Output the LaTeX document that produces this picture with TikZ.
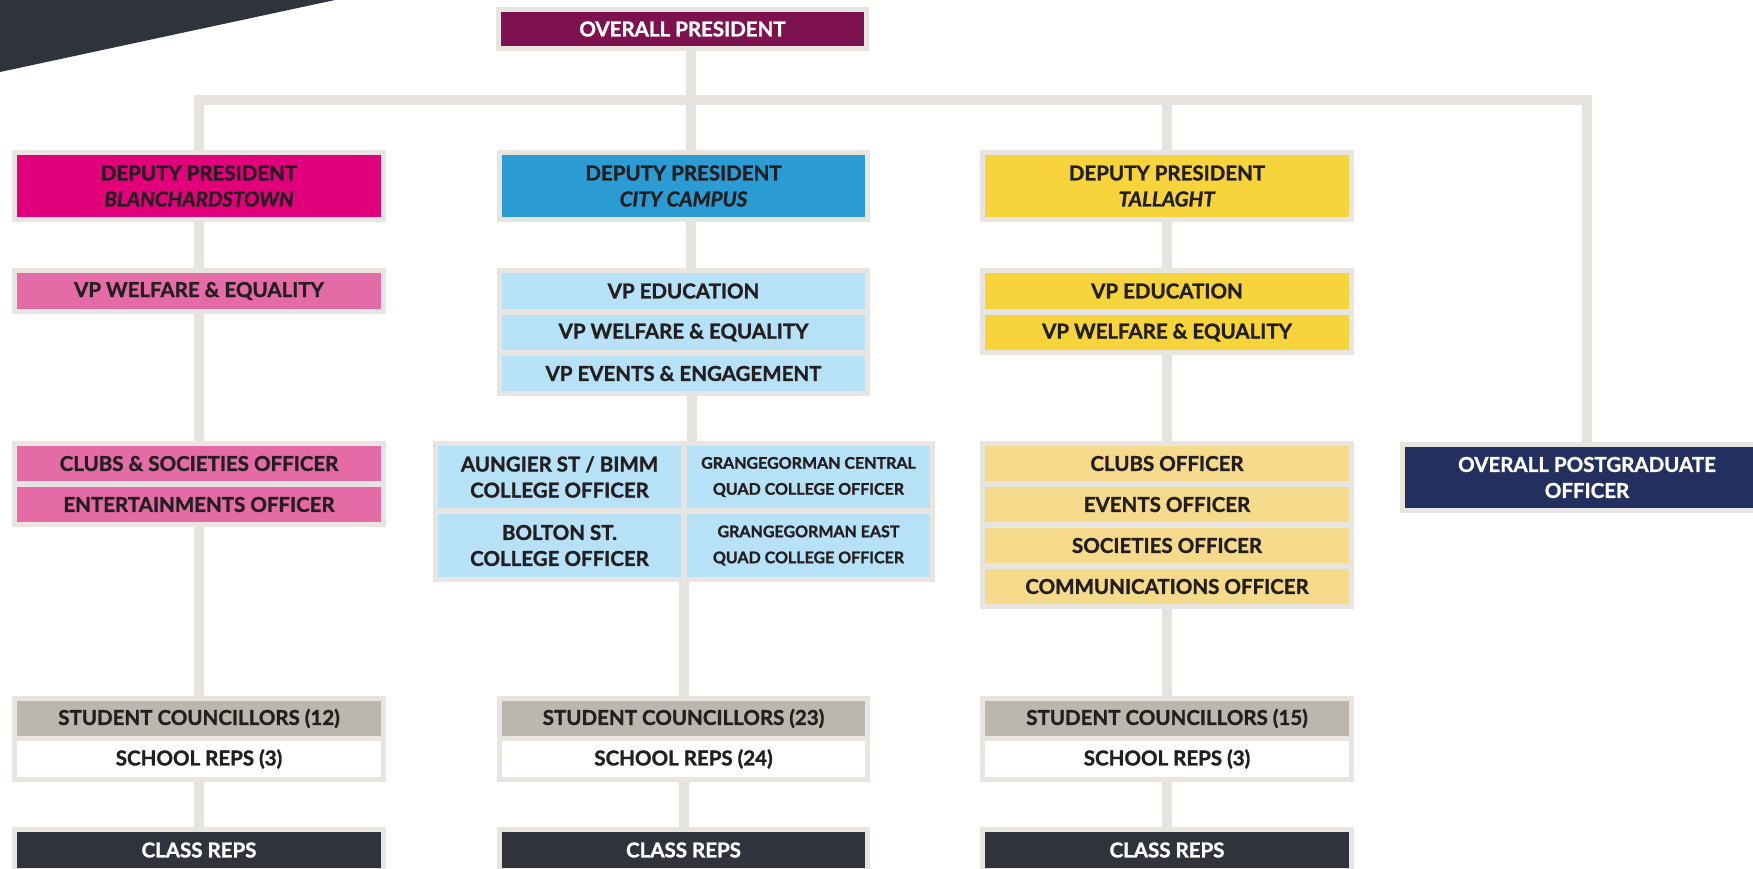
\documentclass[tikz,border=0pt]{standalone}
\usepackage{fontspec}
\setmainfont{Lato}[BoldFeatures={FakeBold=1.3},BoldItalicFeatures={FakeBold=1.3}]
\usetikzlibrary{calc}
\definecolor{ink}{HTML}{231F20}
\definecolor{frmc}{HTML}{E8E5E0}
\definecolor{linc}{HTML}{E6E3DE}
\definecolor{maroon}{HTML}{7E1150}
\definecolor{magen}{HTML}{E2007A}
\definecolor{pinkl}{HTML}{E56BA6}
\definecolor{blued}{HTML}{2A9BD3}
\definecolor{bluel}{HTML}{B7E1F6}
\definecolor{yeld}{HTML}{F8D43C}
\definecolor{yell}{HTML}{F4DA8A}
\definecolor{navy}{HTML}{232F5F}
\definecolor{beige}{HTML}{BBB7AE}
\definecolor{darkc}{HTML}{30333B}
\newcommand\fs{\fontsize{20.5}{26}\selectfont\bfseries}
\newcommand\fss{\fontsize{16}{26}\selectfont\bfseries}
\pgfdeclarelayer{bg}
\pgfsetlayers{bg,main}
\begin{document}
\begin{tikzpicture}[x=1pt,y=-1pt,
  frm/.style={fill=frmc, anchor=north west, inner sep=0pt, outer sep=0pt},
  bx/.style={anchor=north west, inner sep=0pt, outer sep=0pt, align=center, text=ink, font=\fs},
  wt/.style={text=white},
  single/.style={minimum width=364pt, minimum height=36pt},
  conn/.style={draw=linc, line width=10pt, line join=miter}]
\useasboundingbox (0,0) rectangle (1753,868);
\clip (0,0) rectangle (1753,868);
\fill[darkc] (0,0) -- (335,0) -- (0,72) -- cycle;
\coordinate (bar) at (691,100);

% overall president
\node[frm, minimum width=373pt, minimum height=44pt] (opF) at (496,7) {};
\node[bx, wt, fill=maroon, minimum width=363pt, minimum height=34pt] (op) at (501,12) {OVERALL PRESIDENT};

% deputy row
\node[frm, minimum width=374pt, minimum height=72pt] (pdF) at (12,150) {};
\node[bx, fill=magen, minimum width=364pt, minimum height=62pt] (pd) at (17,155) {DEPUTY PRESIDENT\\\textit{BLANCHARDSTOWN}};
\node[frm, minimum width=373pt, minimum height=72pt] (bdF) at (497,150) {};
\node[bx, fill=blued, minimum width=363pt, minimum height=62pt] (bd) at (502,155) {DEPUTY PRESIDENT\\\textit{CITY CAMPUS}};
\node[frm, minimum width=374pt, minimum height=72pt] (ydF) at (980,150) {};
\node[bx, fill=yeld, minimum width=364pt, minimum height=62pt] (yd) at (985,155) {DEPUTY PRESIDENT\\\textit{TALLAGHT}};

% VP row
\node[frm, minimum width=374pt, minimum height=46pt] (pvF) at (12,268) {};
\node[bx, single, fill=pinkl] (pv1) at (17,273) {VP WELFARE \& EQUALITY};
\node[frm, minimum width=373pt, minimum height=128pt] (bvF) at (497,268) {};
\node[bx, fill=bluel, minimum width=363pt, minimum height=36pt] (bv1) at (502,273) {VP EDUCATION};
\node[bx, fill=bluel, minimum width=363pt, minimum height=35pt] (bv2) at (502,315) {VP WELFARE \& EQUALITY};
\node[bx, fill=bluel, minimum width=363pt, minimum height=35pt] (bv3) at (502,356) {VP EVENTS \& ENGAGEMENT};
\node[frm, minimum width=374pt, minimum height=87pt] (yvF) at (980,268) {};
\node[bx, single, fill=yeld] (yv1) at (985,273) {VP EDUCATION};
\node[bx, fill=yeld, minimum width=364pt, minimum height=35pt] (yv2) at (985,315) {VP WELFARE \& EQUALITY};

% officers row
\node[frm, minimum width=374pt, minimum height=86pt] (poF) at (12,441) {};
\node[bx, fill=pinkl, minimum width=364pt, minimum height=35pt] (po1) at (17,446) {CLUBS \& SOCIETIES OFFICER};
\node[bx, fill=pinkl, minimum width=364pt, minimum height=35pt] (po2) at (17,487) {ENTERTAINMENTS OFFICER};

\node[frm, minimum width=502pt, minimum height=141pt] (bgF) at (433,441) {};
\node[bx, fill=bluel, minimum width=243pt, minimum height=62pt] (bg1) at (438,446) {AUNGIER ST / BIMM\\COLLEGE OFFICER};
\node[bx, fill=bluel, minimum width=243pt, minimum height=62pt, font=\fss] (bg2) at (687,446) {GRANGEGORMAN CENTRAL\\QUAD COLLEGE OFFICER};
\node[bx, fill=bluel, minimum width=243pt, minimum height=63pt] (bg3) at (438,514) {BOLTON ST.\\COLLEGE OFFICER};
\node[bx, fill=bluel, minimum width=243pt, minimum height=63pt, font=\fss] (bg4) at (687,514) {GRANGEGORMAN EAST\\QUAD COLLEGE OFFICER};

\node[frm, minimum width=374pt, minimum height=168pt] (yoF) at (980,441) {};
\node[bx, fill=yell, minimum width=364pt, minimum height=35pt] (yo1) at (985,446) {CLUBS OFFICER};
\node[bx, fill=yell, minimum width=364pt, minimum height=35pt] (yo2) at (985,487) {EVENTS OFFICER};
\node[bx, fill=yell, minimum width=364pt, minimum height=35pt] (yo3) at (985,528) {SOCIETIES OFFICER};
\node[bx, fill=yell, minimum width=364pt, minimum height=35pt] (yo4) at (985,569) {COMMUNICATIONS OFFICER};

\node[frm, minimum width=374pt, minimum height=71pt] (pgF) at (1400,442) {};
\node[bx, wt, fill=navy, minimum width=364pt, minimum height=61pt] (pg) at (1405,447) {OVERALL POSTGRADUATE\\OFFICER};

% councillors row
\node[frm, minimum width=374pt, minimum height=86pt] (pcF) at (12,696) {};
\node[bx, fill=beige, minimum width=364pt, minimum height=35pt] (pc1) at (17,701) {STUDENT COUNCILLORS (12)};
\node[bx, fill=white, minimum width=364pt, minimum height=36pt] (pc2) at (17,741) {SCHOOL REPS (3)};
\node[frm, minimum width=373pt, minimum height=86pt] (bcF) at (497,696) {};
\node[bx, fill=beige, minimum width=363pt, minimum height=35pt] (bc1) at (502,701) {STUDENT COUNCILLORS (23)};
\node[bx, fill=white, minimum width=363pt, minimum height=36pt] (bc2) at (502,741) {SCHOOL REPS (24)};
\node[frm, minimum width=374pt, minimum height=86pt] (ycF) at (980,696) {};
\node[bx, fill=beige, minimum width=364pt, minimum height=35pt] (yc1) at (985,701) {STUDENT COUNCILLORS (15)};
\node[bx, fill=white, minimum width=364pt, minimum height=36pt] (yc2) at (985,741) {SCHOOL REPS (3)};

% class reps
\node[frm, minimum width=374pt, minimum height=50pt] (pkF) at (12,827) {};
\node[bx, wt, fill=darkc, minimum width=364pt, minimum height=36pt] (pk) at (17,832) {CLASS REPS};
\node[frm, minimum width=373pt, minimum height=50pt] (bkF) at (497,827) {};
\node[bx, wt, fill=darkc, minimum width=363pt, minimum height=36pt] (bk) at (502,832) {CLASS REPS};
\node[frm, minimum width=374pt, minimum height=50pt] (ykF) at (980,827) {};
\node[bx, wt, fill=darkc, minimum width=364pt, minimum height=36pt] (yk) at (985,832) {CLASS REPS};

\begin{pgfonlayer}{bg}
  % top tree
  \draw[conn] ([xshift=8.5pt]opF.south) -- ([xshift=8.5pt]opF.south |- bar);
  \draw[conn] (pdF.north) |- (pgF.north |- bar) -- (pgF.north);
  \draw[conn] ([xshift=7.5pt]bdF.north |- bar) -- ([xshift=7.5pt]bdF.north);
  \draw[conn] (ydF.north |- bar) -- (ydF.north);
  % pink column
  \draw[conn] (pdF.south) -- (pvF.north);
  \draw[conn] (pvF.south) -- (poF.north);
  \draw[conn] (poF.south) -- (pcF.north);
  \draw[conn] (pcF.south) -- (pkF.north);
  % blue column
  \draw[conn] ([xshift=7.5pt]bdF.south) -- ([xshift=7.5pt]bvF.north);
  \draw[conn] ([xshift=8.5pt]bvF.south) -- ([xshift=8.5pt]bvF.south |- bgF.north);
  \draw[conn] (bgF.south) -- (bgF.south |- bcF.north);
  \draw[conn] (bcF.south) -- (bkF.north);
  % yellow column
  \draw[conn] (ydF.south) -- (yvF.north);
  \draw[conn] (yvF.south) -- (yoF.north);
  \draw[conn] (yoF.south) -- (ycF.north);
  \draw[conn] (ycF.south) -- (ykF.north);
\end{pgfonlayer}
\end{tikzpicture}
\end{document}
